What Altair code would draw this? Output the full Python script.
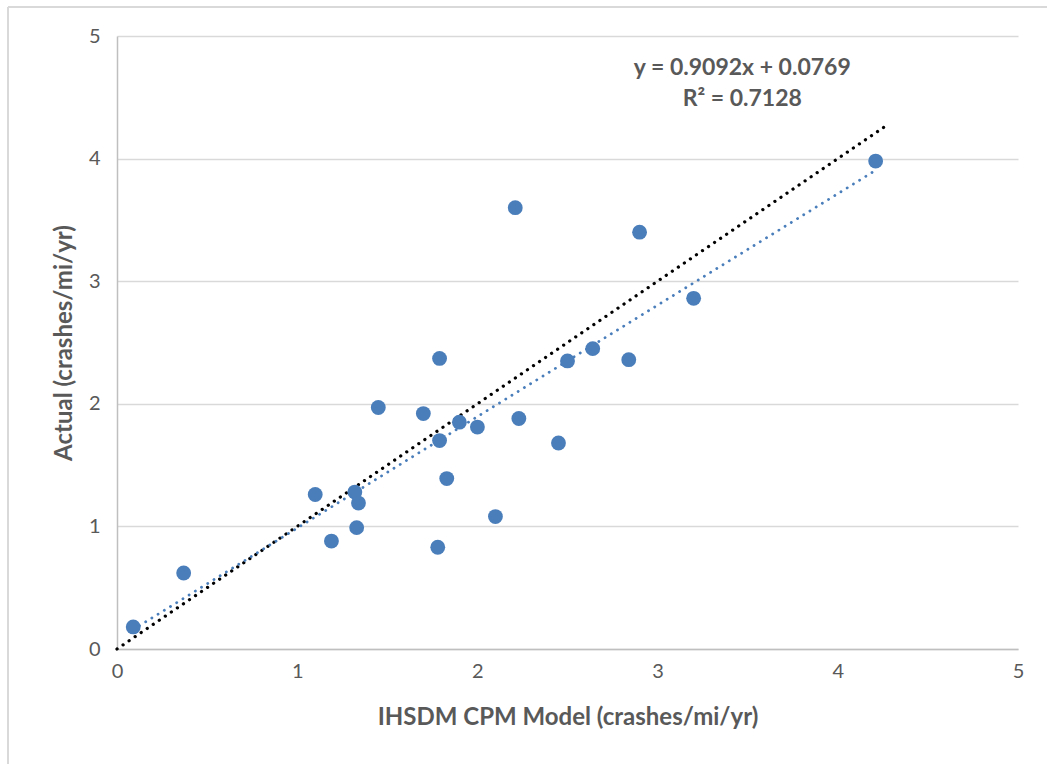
import altair as alt
import pandas as pd

# Data
model = [4.21, 2.21, 2.90, 3.20, 1.79, 2.50, 2.64, 2.84, 1.45, 1.70, 1.90, 2.00, 2.23,
         1.79, 2.45, 1.83, 1.10, 1.32, 1.34, 1.33, 1.19, 2.10, 1.78, 0.37, 0.09]
actual = [3.98, 3.60, 3.40, 2.86, 2.37, 2.35, 2.45, 2.36, 1.97, 1.92, 1.85, 1.81, 1.88,
          1.70, 1.68, 1.39, 1.26, 1.28, 1.19, 0.99, 0.88, 1.08, 0.83, 0.62, 0.18]

slope = 0.9092
intercept = 0.0769
eq_lines = ["y = 0.9092x + 0.0769", "R² = 0.7128"]
eq_x = [3.47, 3.47]
eq_y = [4.74, 4.49]
equal_line_x = [0.0, 4.28]

ticks = [0, 1, 2, 3, 4, 5]

pts = pd.DataFrame({"model": model, "actual": actual})
xmin, xmax = min(model), max(model)
trend = pd.DataFrame({"model": [xmin, xmax],
                      "actual": [slope * xmin + intercept, slope * xmax + intercept]})
ident = pd.DataFrame({"model": equal_line_x, "actual": equal_line_x})
eq = pd.DataFrame({"label": eq_lines, "x": eq_x, "y": eq_y})

FONT = "Lato"
GRAY = "#595959"

xscale = alt.Scale(domain=[0, 5], nice=False)
yscale = alt.Scale(domain=[0, 5], nice=False)

xenc = alt.X("model:Q", scale=xscale,
             axis=alt.Axis(title="IHSDM CPM Model (crashes/mi/yr)", values=ticks, format="d",
                           grid=False, tickSize=0, labelPadding=12, labelFontSize=20,
                           labelFlush=False, labelOverlap=False,
                           labelColor=GRAY, labelFont=FONT, titleFont=FONT,
                           titleFontSize=24, titleFontWeight="bold", titleColor=GRAY,
                           titlePadding=24, domainColor="#BFBFBF", domainWidth=1.5))
yenc = alt.Y("actual:Q", scale=yscale,
             axis=alt.Axis(title="Actual (crashes/mi/yr)", values=ticks, format="d",
                           grid=True, gridColor="#D9D9D9", gridWidth=1.5,
                           tickSize=0, labelPadding=17, labelFontSize=20,
                           labelFlush=False, labelOverlap=False,
                           labelColor=GRAY, labelFont=FONT, titleFont=FONT,
                           titleFontSize=24, titleFontWeight="bold", titleColor=GRAY,
                           titlePadding=12, domainColor="#BFBFBF", domainWidth=1.5))

points = alt.Chart(pts).mark_circle(size=220, color="#4A7EBB", opacity=1).encode(x=xenc, y=yenc)

ident_line = alt.Chart(ident).mark_line(color="black", strokeWidth=3.2,
                                        strokeDash=[0.1, 7.2], strokeCap="round").encode(
    x=alt.X("model:Q", scale=xscale), y=alt.Y("actual:Q", scale=yscale))

trend_line = alt.Chart(trend).mark_line(color="#4A7EBB", strokeWidth=2.8,
                                        strokeDash=[0.1, 7.2], strokeCap="round").encode(
    x=alt.X("model:Q", scale=xscale), y=alt.Y("actual:Q", scale=yscale))

eq_text = alt.Chart(eq).mark_text(font=FONT, fontSize=23, fontWeight="bold",
                                  color=GRAY, align="center", baseline="middle").encode(
    x=alt.X("x:Q", scale=xscale), y=alt.Y("y:Q", scale=yscale), text="label:N")

# faint outer chart frame (left and top edges)
frame_v = alt.Chart(pts).mark_rule(color="#D9D9D9", strokeWidth=1.5).encode(
    x=alt.value(-109), y=alt.value(-29), y2=alt.value(740))
frame_h = alt.Chart(pts).mark_rule(color="#D9D9D9", strokeWidth=1.5).encode(
    x=alt.value(-109), x2=alt.value(940), y=alt.value(-29))

chart = alt.layer(frame_v, frame_h, ident_line, trend_line, points, eq_text).properties(
    width=901, height=613,
    autosize=alt.AutoSizeParams(type="none"),
    padding={"left": 117, "top": 36, "right": 29, "bottom": 115},
    background="white",
).configure_view(stroke=None)

chart.save("out.html", embed_options={"renderer": "svg", "actions": False})
